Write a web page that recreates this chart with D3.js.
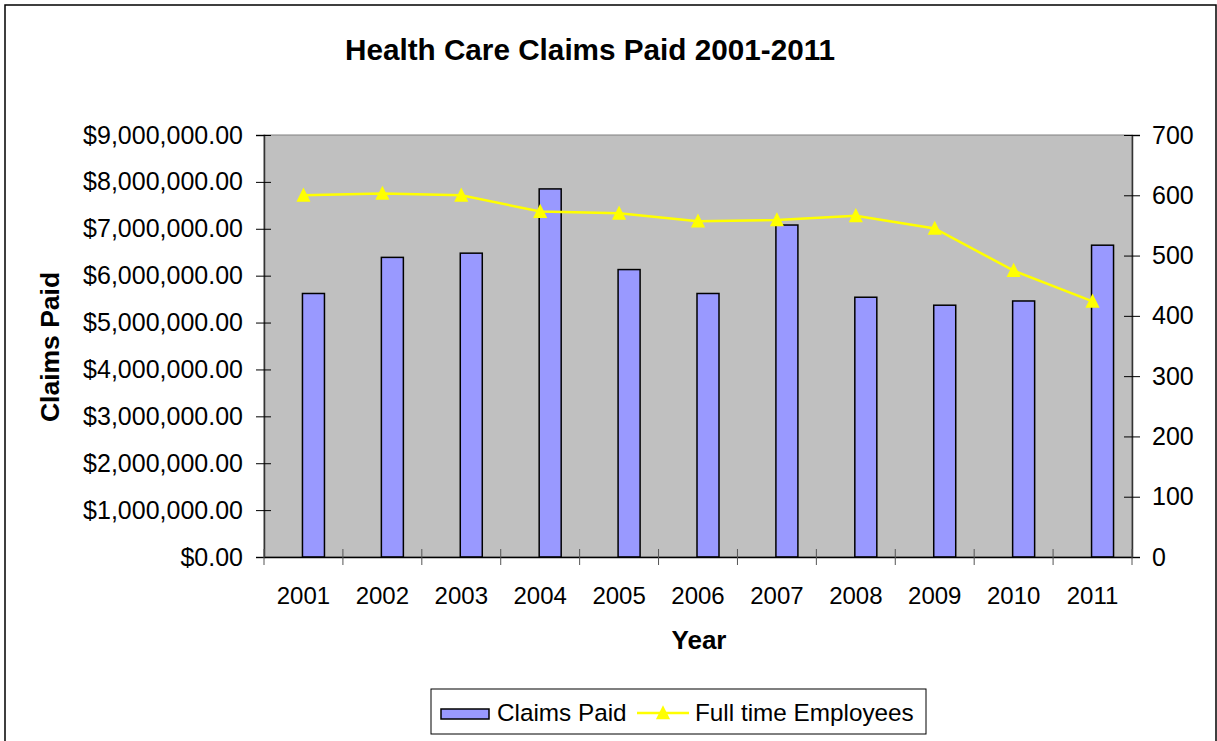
<!DOCTYPE html>
<html>
<head>
<meta charset="utf-8">
<script src="https://cdn.jsdelivr.net/npm/d3@7"></script>
<style>
  html, body { margin: 0; padding: 0; background: #fff; }
  svg { display: block; font-family: "Liberation Sans", Arial, sans-serif; }
</style>
</head>
<body>
<svg id="chart" width="1217" height="741"></svg>
<script>
const years = ["2001","2002","2003","2004","2005","2006","2007","2008","2009","2010","2011"];
const claimsPaid = [5620000, 6390000, 6480000, 7850000, 6130000, 5620000, 7080000, 5540000, 5370000, 5460000, 6650000];
const employees = [600, 603, 600, 573, 570, 557, 559, 566, 545, 475, 424];
const leftTicks = [0, 1000000, 2000000, 3000000, 4000000, 5000000, 6000000, 7000000, 8000000, 9000000];
const rightTicks = [0, 100, 200, 300, 400, 500, 600, 700];

const svg = d3.select("#chart");
const plot = { left: 264, right: 1132, top: 135, bottom: 557 };

// outer frame
svg.append("rect").attr("x", 5).attr("y", 5).attr("width", 1211).attr("height", 760)
  .attr("fill", "#fff").attr("stroke", "#000").attr("stroke-width", 1.5);

const x = d3.scaleBand().domain(years).range([plot.left, plot.right]).padding(0);
const yL = d3.scaleLinear().domain([0, 9000000]).range([plot.bottom, plot.top]);
const yR = d3.scaleLinear().domain([0, 700]).range([plot.bottom, plot.top]);

// plot background
svg.append("rect").attr("x", plot.left).attr("y", plot.top)
  .attr("width", plot.right - plot.left).attr("height", plot.bottom - plot.top)
  .attr("fill", "#C0C0C0").attr("stroke", "#808080").attr("stroke-width", 1);

// bars
const barW = 22;
svg.append("g").selectAll("rect").data(years).join("rect")
  .attr("x", (d) => x(d) + x.bandwidth() / 2 - 1)
  .attr("y", (d, i) => yL(claimsPaid[i]))
  .attr("width", barW)
  .attr("height", (d, i) => yL(0) - yL(claimsPaid[i]))
  .attr("fill", "#9999FF").attr("stroke", "#000").attr("stroke-width", 1.5);

// left axis
const fmt = d3.format(",.2f");
const gL = svg.append("g").attr("transform", `translate(${plot.left},0)`)
  .call(d3.axisLeft(yL).tickValues(leftTicks).tickSize(8).tickPadding(13)
    .tickFormat(d => "$" + fmt(d)));
gL.selectAll(".tick line").attr("x1", 7);
gL.select(".domain").attr("stroke", "#333").attr("stroke-width", 1.5);
gL.selectAll("text").attr("font-size", 25).attr("fill", "#000")
  .attr("font-family", "'Liberation Sans', Arial, sans-serif");

// right axis
const gR = svg.append("g").attr("transform", `translate(${plot.right},0)`)
  .call(d3.axisRight(yR).tickValues(rightTicks).tickSize(8).tickPadding(12));
gR.selectAll(".tick line").attr("x1", -8);
gR.select(".domain").attr("stroke", "#333").attr("stroke-width", 1.5);
gR.selectAll("text").attr("font-size", 25).attr("fill", "#000")
  .attr("font-family", "'Liberation Sans', Arial, sans-serif");

// bottom axis (labels) + boundary ticks
const gB = svg.append("g").attr("transform", `translate(0,${plot.bottom})`)
  .call(d3.axisBottom(x).tickSize(0).tickPadding(30));
gB.select(".domain").attr("stroke", "#000").attr("stroke-width", 1.5);
gB.selectAll("text").attr("font-size", 24).attr("fill", "#000")
  .attr("font-family", "'Liberation Sans', Arial, sans-serif");
const bounds = d3.range(years.length + 1).map(i => plot.left + i * x.step());
gB.selectAll("line.bt").data(bounds).join("line").attr("class", "bt")
  .attr("x1", d => d).attr("x2", d => d).attr("y1", -8).attr("y2", 8)
  .attr("stroke", "#555").attr("stroke-width", 1);

// employees line
const line = d3.line().x((d, i) => x(years[i]) + x.bandwidth() / 2).y(d => yR(d));
svg.append("path").datum(employees).attr("d", line)
  .attr("fill", "none").attr("stroke", "#FFFF00").attr("stroke-width", 2.5);
const triType = {
  draw(ctx, size) {
    const h = Math.sqrt(size);
    ctx.moveTo(0, -h * 0.55);
    ctx.lineTo(h * 0.5, h * 0.45);
    ctx.lineTo(-h * 0.5, h * 0.45);
    ctx.closePath();
  }
};
const tri = d3.symbol().type(triType).size(200);
svg.append("g").selectAll("path").data(employees).join("path")
  .attr("d", tri)
  .attr("transform", (d, i) => `translate(${x(years[i]) + x.bandwidth() / 2},${yR(d)})`)
  .attr("fill", "#FFFF00");

// titles
svg.append("text").attr("x", 590).attr("y", 60).attr("text-anchor", "middle")
  .attr("font-size", 29.7).attr("font-weight", "bold").text("Health Care Claims Paid 2001-2011");
svg.append("text").attr("x", 699).attr("y", 649).attr("text-anchor", "middle")
  .attr("font-size", 26).attr("font-weight", "bold").text("Year");
svg.append("text").attr("transform", "translate(59,347) rotate(-90)").attr("text-anchor", "middle")
  .attr("font-size", 26.5).attr("font-weight", "bold").text("Claims Paid");

// legend
const lg = svg.append("g");
lg.append("rect").attr("x", 431).attr("y", 689).attr("width", 495).attr("height", 45)
  .attr("fill", "#fff").attr("stroke", "#000").attr("stroke-width", 1);
lg.append("rect").attr("x", 441).attr("y", 709).attr("width", 48).attr("height", 10)
  .attr("fill", "#9999FF").attr("stroke", "#000").attr("stroke-width", 1.5);
lg.append("text").attr("x", 497).attr("y", 721).attr("font-size", 24.3).text("Claims Paid");
lg.append("line").attr("x1", 637).attr("x2", 689).attr("y1", 713).attr("y2", 713)
  .attr("stroke", "#FFFF00").attr("stroke-width", 2.5);
lg.append("path").attr("d", tri).attr("transform", "translate(663,713)").attr("fill", "#FFFF00");
lg.append("text").attr("x", 695).attr("y", 721).attr("font-size", 24.3).text("Full time Employees");
</script>
</body>
</html>
